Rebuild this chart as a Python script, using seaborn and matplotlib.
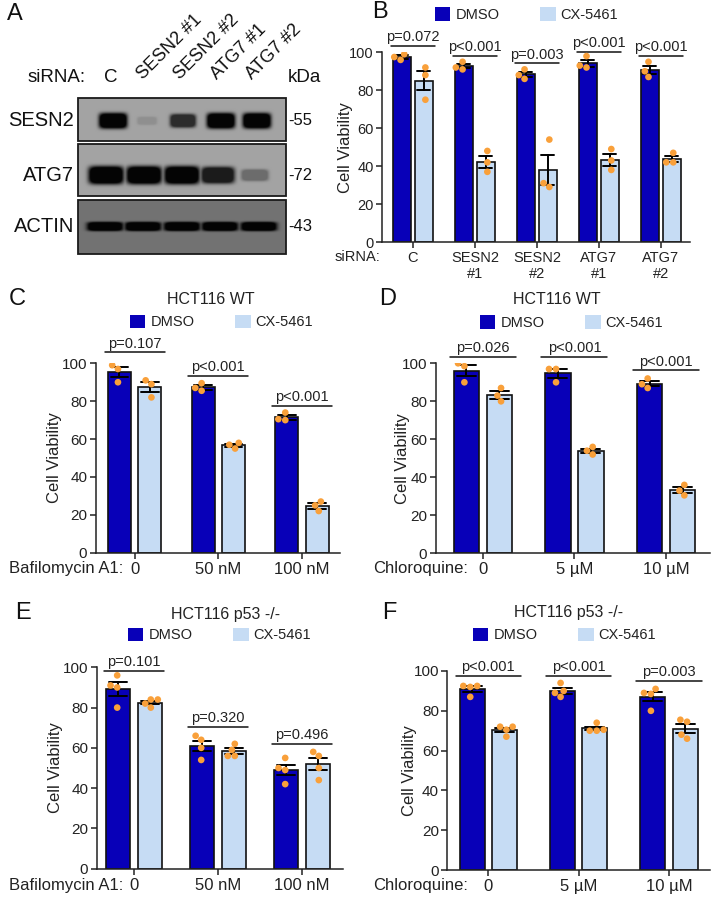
import numpy as np
import pandas as pd
import matplotlib
matplotlib.use("Agg")
import matplotlib.pyplot as plt
import seaborn as sns
from matplotlib.patches import Patch, Rectangle

sns.set_theme(style="ticks")
plt.rcParams["font.family"] = ["Liberation Sans", "DejaVu Sans"]

# ---------------- data ----------------
treatments = ["DMSO", "CX-5461"]

# Panel A (western blot band intensities, 0..1)
blot_lanes = ["C", "SESN2 #1", "SESN2 #2", "ATG7 #1", "ATG7 #2"]
blot_proteins = ["SESN2", "ATG7", "ACTIN"]
blot_kda = ["-55", "-72", "-43"]
sesn2_band = [1.0, 0.12, 0.75, 1.0, 1.0]
atg7_band = [1.0, 1.0, 1.0, 0.85, 0.35]
actin_band = [1.0, 1.0, 1.0, 1.0, 1.0]

# Panel B
b_groups = ["C", "SESN2 #1", "SESN2 #2", "ATG7 #1", "ATG7 #2"]
b_ticklabels = ["C", "SESN2\n#1", "SESN2\n#2", "ATG7\n#1", "ATG7\n#2"]
b_dmso = [[99, 96, 97.5], [95, 91, 92], [91, 86, 88], [98, 92, 93], [95, 87, 90]]
b_cx = [[92, 75, 88], [48, 37, 42], [54, 29, 31], [49, 38, 43], [47, 42, 42]]
b_pvals = ["p=0.072", "p<0.001", "p=0.003", "p<0.001", "p<0.001"]
b_pline = [103.3, 98.2, 94.2, 100.4, 98.0]

# Panel C
c_groups = ["0", "50 nM", "100 nM"]
c_dmso = [[99, 97, 90], [89.5, 87, 85.5], [74, 70, 70.5]]
c_cx = [[91, 89, 82], [58, 57, 55], [27, 22, 25]]
c_pvals = ["p=0.107", "p<0.001", "p<0.001"]
c_pline = [105.8, 93.5, 77.5]

# Panel D
d_groups = ["0", "5 µM", "10 µM"]
d_dmso = [[100, 98.5, 90], [97, 97, 90], [92, 87, 89]]
d_cx = [[87, 83, 80], [56, 54, 52], [36, 30.5, 33]]
d_pvals = ["p=0.026", "p<0.001", "p<0.001"]
d_pline = [103.5, 103.5, 96.3]

# Panel E
e_groups = ["0", "50 nM", "100 nM"]
e_dmso = [[96, 91, 90, 80], [66, 64, 60, 54], [55, 50, 49, 42]]
e_cx = [[84, 80, 82, 84], [62, 56, 56, 59], [58, 56, 50, 44]]
e_pvals = ["p=0.101", "p=0.320", "p=0.496"]
e_pline = [98.3, 70.5, 61.9]

# Panel F
f_groups = ["0", "5 µM", "10 µM"]
f_dmso = [[92.5, 92, 92.5, 87], [94, 90, 87, 89], [89, 88.5, 91, 80]]
f_cx = [[72, 70.5, 72, 67], [70.5, 70, 70, 74], [75.5, 74.5, 68, 66]]
f_pvals = ["p<0.001", "p<0.001", "p=0.003"]
f_pline = [97.5, 97.5, 95.0]

yticks = [0, 20, 40, 60, 80, 100]

# ---------------- style ----------------
DARK = "#0800b8"
LIGHT = "#c6dcf4"
ORANGE = "#f9a03a"
palette = {"DMSO": DARK, "CX-5461": LIGHT}
pt_palette = {"DMSO": ORANGE, "CX-5461": ORANGE}
TXT = "#222222"

W, H = 712, 897
fig = plt.figure(figsize=(W / 100, H / 100), dpi=100)


def add_ax(l, t, r, b):
    return fig.add_axes([l / W, 1 - b / H, (r - l) / W, (b - t) / H])


def ftext(x, y, s, **kw):
    fig.text(x / W, 1 - y / H, s, **kw)


def bar_panel(box, xlim, groups, ticklabels, dmso, cx, pvals, pline,
              width, gap, ylabel_x, prefix, prefix_xy, tick_fs, ytick_fs=11):
    ax = add_ax(*box)
    rows = []
    for g, dv, cv in zip(groups, dmso, cx):
        for v in dv:
            rows.append((g, "DMSO", v))
        for v in cv:
            rows.append((g, "CX-5461", v))
    df = pd.DataFrame(rows, columns=["group", "treatment", "value"])
    sns.barplot(data=df, x="group", y="value", hue="treatment", order=groups,
                hue_order=treatments, palette=palette, saturation=1,
                errorbar="se", capsize=0.42,
                err_kws={"color": "black", "linewidth": 1.4},
                edgecolor="#111111", linewidth=1.2, width=width, gap=gap,
                legend=False, ax=ax)
    sns.swarmplot(data=df, x="group", y="value", hue="treatment", order=groups,
                  hue_order=treatments, palette=pt_palette, dodge=True,
                  size=4.8, legend=False, ax=ax, zorder=4)
    ax.set_xlim(*xlim)
    ax.set_ylim(0, 100)
    ax.set_yticks(yticks)
    ax.set_xticks(range(len(groups)))
    ax.set_xticklabels(ticklabels, fontsize=tick_fs)
    ax.tick_params(axis="y", labelsize=ytick_fs, length=4, width=1.1, pad=2,
                   colors=TXT)
    ax.tick_params(axis="x", length=4, width=1.1, pad=2.5, colors=TXT)
    for s in ["top", "right"]:
        ax.spines[s].set_visible(False)
    for s in ["left", "bottom"]:
        ax.spines[s].set_linewidth(1.1)
        ax.spines[s].set_color(TXT)
    ax.set_xlabel("")
    ax.set_ylabel("Cell Viability", fontsize=12, color=TXT)
    l, t, r, b = box
    ax.yaxis.set_label_coords((ylabel_x - l) / (r - l), 0.5)
    for i, (p, y) in enumerate(zip(pvals, pline)):
        ax.plot([i - 0.36, i + 0.36], [y, y], color="#111111", lw=1.1,
                clip_on=False)
        ax.annotate(p, xy=(i, y), xytext=(0, 1.2), textcoords="offset points",
                    ha="center", va="bottom", fontsize=10.5, color=TXT,
                    annotation_clip=False)
    ftext(prefix_xy[0], prefix_xy[1], prefix, ha="right", va="center",
          fontsize=tick_fs, color=TXT)
    return ax


def legend_at(ax, x, y):
    handles = [Patch(facecolor=palette[t], edgecolor="none") for t in treatments]
    ax.legend(handles=handles, labels=treatments, ncol=2, frameon=False,
              loc="center left", bbox_to_anchor=(x / W, 1 - y / H),
              bbox_transform=fig.transFigure, borderaxespad=0, borderpad=0,
              handlelength=1.05, handleheight=1.05, handletextpad=0.35,
              columnspacing=2.8, fontsize=10.5, labelcolor=TXT)


# ---------------- Panel A : blot ----------------
axA = add_ax(0, 0, 340, 270)
axA.set_xlim(0, 340)
axA.set_ylim(270, 0)
axA.axis("off")

strips = [
    (sesn2_band, 98, 141, 0.64, 0.53, 12.5, 6.5, [113, 147, 183, 221, 257]),
    (atg7_band, 144, 196, 0.64, 0.60, 15.5, 7.5, [106, 144, 182, 218, 255]),
    (actin_band, 200, 254, 0.45, 0.49, 16, 3.8, [105, 143, 182, 220, 259]),
]
x0, x1 = 78, 286
for (levels, top, bot, bg, yc, ha_, hb_, lane_x), name, kda in zip(
        strips, blot_proteins, blot_kda):
    xs = np.linspace(x0, x1, (x1 - x0) * 3)
    ys = np.linspace(top, bot, (bot - top) * 3)
    X, Y = np.meshgrid(xs, ys)
    dark = np.zeros_like(X)
    cy = top + yc * (bot - top)
    for lvl, lx in zip(levels, lane_x):
        a = ha_ * (0.65 + 0.35 * lvl)
        b = hb_ * (0.45 + 0.55 * lvl)
        px = np.exp(-0.5 * (np.abs(X - lx) / a) ** 6)
        py = np.exp(-0.5 * (np.abs(Y - cy) / b) ** 4)
        dark = np.maximum(dark, lvl * np.clip(1.7 * px * py, 0, 1))
    img = bg * (1 - 0.97 * dark)
    axA.imshow(img, extent=(x0, x1, bot, top), cmap="gray", vmin=0, vmax=1,
               aspect="auto", interpolation="bilinear", zorder=1)
    axA.add_patch(Rectangle((x0, top), x1 - x0, bot - top, fill=False,
                            edgecolor="#1a1a1a", lw=1.3, zorder=2))
    axA.text(74, cy, name, ha="right", va="center", fontsize=14.5,
             color="#111111")
    axA.text(288, cy, kda, ha="left", va="center", fontsize=12,
             color="#111111")

axA.text(86, 77, "siRNA:", ha="right", va="center", fontsize=13.5,
         color="#111111")
axA.text(111, 77, blot_lanes[0], ha="center", va="center", fontsize=13.5,
         color="#111111")
for lab, lx in zip(blot_lanes[1:], [143, 180, 217, 252]):
    axA.text(lx, 80, lab, ha="left", va="baseline", rotation=45,
             rotation_mode="anchor", fontsize=13, color="#111111")
axA.text(288, 77, "kDa", ha="left", va="center", fontsize=13.5,
         color="#111111")

# ---------------- Panel B ----------------
axB = bar_panel((382, 52.3, 690, 242), (-0.5, 4.47), b_groups, b_ticklabels,
                b_dmso, b_cx, b_pvals, b_pline, 0.71, 0.18, 353,
                "siRNA:", (380, 257), 10.5, ytick_fs=10.5)
legend_at(axB, 435, 14.5)

# ---------------- Panel C ----------------
axC = bar_panel((95.7, 363.3, 340, 552.7), (-0.466, 2.454), c_groups, c_groups,
                c_dmso, c_cx, c_pvals, c_pline, 0.727, 0.24, 62,
                "Bafilomycin A1:", (123, 569), 12)
legend_at(axC, 130, 322)
ftext(211, 299, "HCT116 WT", ha="center", va="center", fontsize=11.5,
      color=TXT)

# ---------------- Panel D ----------------
axD = bar_panel((435.7, 363.3, 710, 553.3), (-0.513, 2.48), d_groups, d_groups,
                d_dmso, d_cx, d_pvals, d_pline, 0.72, 0.23, 410,
                "Chloroquine:", (468, 569), 12)
legend_at(axD, 480, 322.5)
ftext(557, 299, "HCT116 WT", ha="center", va="center", fontsize=11.5,
      color=TXT)

# ---------------- Panel E ----------------
axE = bar_panel((96.7, 667.3, 343, 868.7), (-0.444, 2.488), e_groups, e_groups,
                e_dmso, e_cx, e_pvals, e_pline, 0.76, 0.24, 63,
                "Bafilomycin A1:", (123, 885), 12)
legend_at(axE, 128, 635)
ftext(226, 615, "HCT116 p53 -/-", ha="center", va="center", fontsize=11.5,
      color=TXT)

# ---------------- Panel F ----------------
axF = bar_panel((447.3, 671, 710, 870), (-0.454, 2.454), f_groups, f_groups,
                f_dmso, f_cx, f_pvals, f_pline, 0.72, 0.23, 417,
                "Chloroquine:", (468, 885), 12)
legend_at(axF, 473, 635)
ftext(569, 613, "HCT116 p53 -/-", ha="center", va="center", fontsize=11.5,
      color=TXT)

# ---------------- panel letters ----------------
for letter, x, y in [("A", 7, 14), ("B", 372, 12), ("C", 9, 299),
                     ("D", 379, 299), ("E", 15, 613), ("F", 382, 613)]:
    ftext(x, y, letter, ha="left", va="center", fontsize=17, color="#111111")

fig.savefig("out.png", dpi=100)
